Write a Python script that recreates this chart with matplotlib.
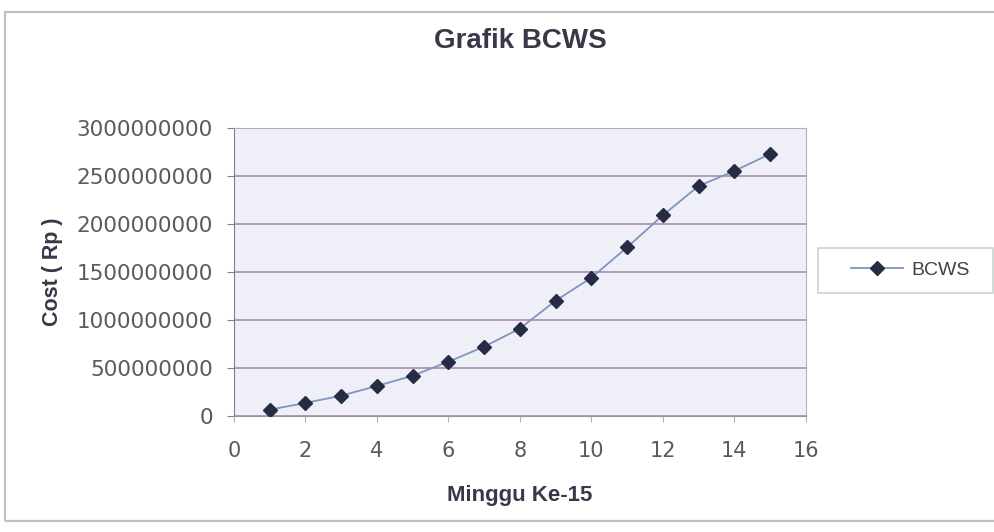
import matplotlib.pyplot as plt
from matplotlib.patches import Rectangle
from matplotlib.ticker import FuncFormatter

# cumulative planned cost per week
weeks = [1, 2, 3, 4, 5, 6, 7, 8, 9, 10, 11, 12, 13, 14, 15]
bcws = [66e6, 136e6, 212e6, 313e6, 420e6, 566e6, 723e6, 912e6,
        1202e6, 1442e6, 1759e6, 2093e6, 2398e6, 2555e6, 2732e6]
x_ticks = [0, 2, 4, 6, 8, 10, 12, 14, 16]
y_ticks = [0, 500e6, 1000e6, 1500e6, 2000e6, 2500e6, 3000e6]

fig = plt.figure(figsize=(9.95, 5.32), dpi=100)
fig.patch.set_facecolor("white")

# chart area border
fig.patches.append(Rectangle((0.005, 0.02), 1.2, 0.957, transform=fig.transFigure,
                             fill=False, edgecolor="#c4bcc8", linewidth=1.6))

ax = fig.add_axes([0.235, 0.218, 0.575, 0.541])
ax.set_facecolor("#efeff7")

ax.plot(weeks, bcws, color="#7d95c0", linewidth=1.3, marker="D", markersize=7,
        markerfacecolor="#262c44", markeredgecolor="#262c44", label="BCWS", zorder=3)

ax.set_xlim(0, 16)
ax.set_ylim(0, 3e9)
ax.set_xticks(x_ticks)
ax.set_yticks(y_ticks)
ax.yaxis.set_major_formatter(FuncFormatter(lambda v, p: "%d" % v))

ax.grid(axis="y", color="#a88ca8", linewidth=1.2)
ax.set_axisbelow(True)
for side in ["top", "right"]:
    ax.spines[side].set_color("#b0b0b8")
ax.spines["bottom"].set_color("#a88ca8")
ax.spines["left"].set_color("#808080")

ax.tick_params(axis="y", direction="out", length=5, color="#808080", pad=10,
               labelsize=15.5, labelcolor="#5a5a5a")
ax.tick_params(axis="x", direction="out", length=4, color="#b0b0b8", pad=14,
               labelsize=15, labelcolor="#5a5a5a")
for lbl in ax.get_xticklabels() + ax.get_yticklabels():
    lbl.set_family("DejaVu Sans")

fig.text(0.523, 0.922, "Grafik BCWS", ha="center", va="center", fontsize=20,
         fontweight="bold", family="Liberation Sans", color="#383848")
ax.set_xlabel("Minggu Ke-15", fontsize=16, fontweight="bold", family="Liberation Sans",
              color="#383848", labelpad=17)
ax.set_ylabel("Cost ( Rp )", fontsize=15.5, fontweight="bold", family="Liberation Sans",
              color="#383848", labelpad=10)

# legend frame drawn separately so the entry can sit centred in it
fig.patches.append(Rectangle((0.822, 0.449), 0.176, 0.085, transform=fig.transFigure,
                             facecolor="white", edgecolor="#c8d4d0", linewidth=1.2))
leg = fig.legend(loc="center left", bbox_to_anchor=(0.855, 0.492), frameon=False,
                 handlelength=2.7, borderpad=0, borderaxespad=0, handletextpad=0.4,
                 prop={"family": "Liberation Sans", "size": 14})
for t in leg.get_texts():
    t.set_color("#404048")

fig.savefig("out.png", dpi=100)
